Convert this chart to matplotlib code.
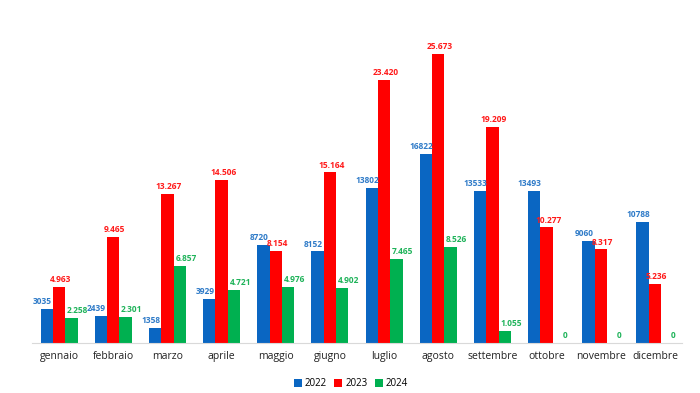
import matplotlib
matplotlib.use("Agg")
import matplotlib.pyplot as plt
import numpy as np

months = ["gennaio", "febbraio", "marzo", "aprile", "maggio", "giugno",
          "luglio", "agosto", "settembre", "ottobre", "novembre", "dicembre"]
v2022 = [3035, 2439, 1358, 3929, 8720, 8152, 13802, 16822, 13533, 13493, 9060, 10788]
v2023 = [4963, 9465, 13267, 14506, 8154, 15164, 23420, 25673, 19209, 10277, 8317, 5236]
v2024 = [2258, 2301, 6857, 4721, 4976, 4902, 7465, 8526, 1055, 0, 0, 0]
series_names = ["2022", "2023", "2024"]

bar_colors = ["#0A66C2", "#FF0000", "#00B050"]
label_colors = ["#2F7BC8", "#FF1A1A", "#1FB35A"]

def fmt_plain(v):
    return f"{v}"

def fmt_it(v):
    return f"{v:,}".replace(",", ".")

plt.rcParams['font.family'] = ['Open Sans', 'DejaVu Sans']

fig = plt.figure(figsize=(7, 3.93), dpi=100)
ax = fig.add_axes([32/700, 50/393, 650/700, 315/393])

x = np.arange(len(months))
w = 0.228
series = [v2022, v2023, v2024]
fmts = [fmt_plain, fmt_it, fmt_it]
offsets = [-3.2, 1.2, 4.5]
for i, (vals, name) in enumerate(zip(series, series_names)):
    xs = x + (i - 1) * w
    ax.bar(xs, vals, width=w, color=bar_colors[i], label=name, zorder=2)
    for xi, v in zip(xs, vals):
        ax.annotate(fmts[i](v), (xi, v), xytext=(offsets[i], 2),
                    textcoords="offset points", ha="center", va="bottom",
                    fontsize=6.0, fontweight="bold", color=label_colors[i])

ax.set_xlim(-0.5, 11.5)
ax.set_ylim(0, 28000)
ax.set_xticks(x)
ax.set_xticklabels(months, fontsize=7.5, color="#222222")
ax.tick_params(axis="x", length=0, pad=6)
ax.set_yticks([])
for s in ["top", "right", "left"]:
    ax.spines[s].set_visible(False)
ax.spines["bottom"].set_color("#D9D9D9")
ax.spines["bottom"].set_linewidth(0.8)

fig.legend(loc="center", bbox_to_anchor=(351/700, 1 - 384/393), ncol=3,
           frameon=False, fontsize=7, handlelength=0.8, handleheight=0.8,
           handletextpad=0.3, columnspacing=0.8)

fig.savefig("out.png", dpi=100)
